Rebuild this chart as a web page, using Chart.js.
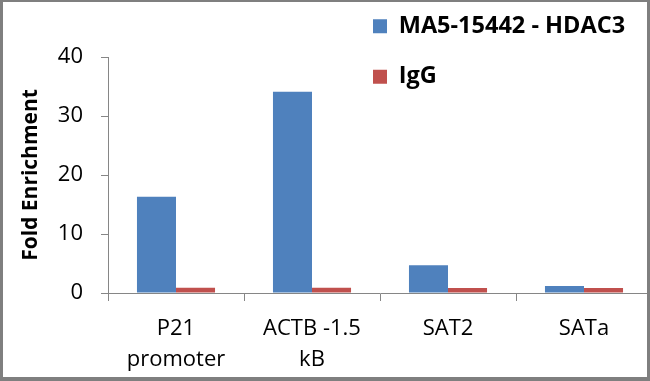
<!DOCTYPE html>
<html>
<head>
<meta charset="utf-8">
<script src="https://cdn.jsdelivr.net/npm/chart.js@4"></script>
<style>
  html, body { margin: 0; padding: 0; background: #fff; }
  #wrap { position: relative; width: 650px; height: 381px; overflow: hidden; background: #fff; }
  #c { position: absolute; left: 0; top: 0; }
  #frame { position: absolute; left: 0; top: 0; width: 650px; height: 381px; box-sizing: border-box;
           border-style: solid; border-color: #7f7f7f; border-width: 2px 3px 4px 3px; pointer-events: none; }
</style>
</head>
<body>
<div id="wrap">
  <canvas id="c" width="660" height="381"></canvas>
  <div id="frame"></div>
</div>
<script>
const categories = [["P21", "promoter"], ["ACTB -1.5", "kB"], "SAT2", "SATa"];
const seriesNames = ["MA5-15442 - HDAC3", "IgG"];
const hdac3Values = [16.3, 34.1, 4.7, 1.2];
const iggValues = [0.9, 0.9, 0.85, 0.85];
const yTicks = [0, 10, 20, 30, 40];

const FONT = "'Open Sans', 'DejaVu Sans', sans-serif";
const AXIS_GRAY = '#868686';

const legendPlace = {
  id: 'legendPlace',
  afterLayout(chart) {
    const lg = chart.legend;
    if (!lg) return;
    const w = lg.right - lg.left;
    lg.left = 346;
    lg.right = lg.left + w;
    lg.top = -12.5;
  }
};

new Chart(document.getElementById('c'), {
  type: 'bar',
  data: {
    labels: categories,
    datasets: [
      { label: seriesNames[0], data: hdac3Values, backgroundColor: '#4F81BD', borderWidth: 0 },
      { label: seriesNames[1], data: iggValues, backgroundColor: '#C0504D', borderWidth: 0 }
    ]
  },
  plugins: [legendPlace],
  options: {
    responsive: false,
    animation: false,
    devicePixelRatio: 1,
    layout: { padding: { left: 0, right: 8, top: 57, bottom: 0 } },
    datasets: { bar: { categoryPercentage: 0.574, barPercentage: 1.0 } },
    plugins: {
      tooltip: { enabled: false },
      legend: {
        position: 'chartArea',
        align: 'start',
        labels: {
          boxWidth: 14,
          boxHeight: 14,
          padding: 27,
          color: '#000',
          font: { family: FONT, size: 23.5, weight: 'bold' }
        }
      }
    },
    scales: {
      x: {
        offset: true,
        afterFit: (s) => { s.height = 88; },
        grid: { display: true, drawOnChartArea: false, drawTicks: true, tickLength: 8, color: AXIS_GRAY, offset: true },
        border: { display: true, color: AXIS_GRAY, width: 1 },
        ticks: {
          color: '#000',
          padding: 12,
          maxRotation: 0,
          font: { family: FONT, size: 22, lineHeight: '31px' }
        }
      },
      y: {
        min: 0,
        max: 40,
        afterFit: (s) => { s.width = 108; },
        afterBuildTicks: (s) => { s.ticks = yTicks.map(v => ({ value: v })); },
        grid: { display: true, drawOnChartArea: false, drawTicks: true, tickLength: 7, color: AXIS_GRAY },
        border: { display: true, color: AXIS_GRAY, width: 1 },
        ticks: {
          color: '#000',
          padding: 18,
          font: { family: FONT, size: 22 }
        },
        title: {
          display: true,
          text: 'Fold Enrichment',
          color: '#000',
          padding: { top: 18, bottom: 0 },
          font: { family: FONT, size: 21, weight: 'bold' }
        }
      }
    }
  }
});
</script>
</body>
</html>
